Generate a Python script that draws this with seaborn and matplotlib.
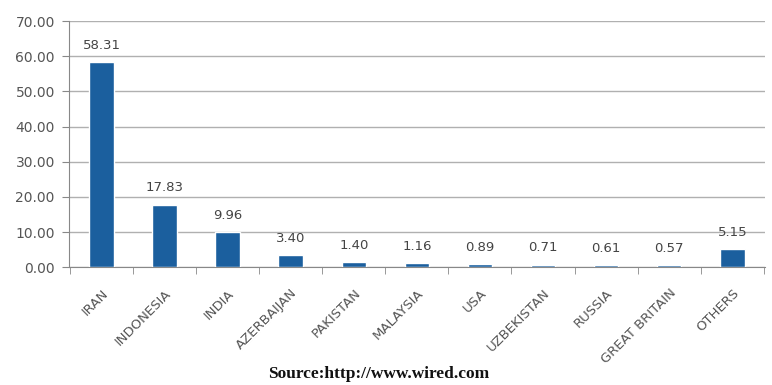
import matplotlib
matplotlib.use("Agg")
import matplotlib.pyplot as plt
import seaborn as sns
import pandas as pd
import numpy as np

countries = ["IRAN", "INDONESIA", "INDIA", "AZERBAIJAN", "PAKISTAN", "MALAYSIA",
             "USA", "UZBEKISTAN", "RUSSIA", "GREAT BRITAIN", "OTHERS"]
values = [58.31, 17.83, 9.96, 3.40, 1.40, 1.16, 0.89, 0.71, 0.61, 0.57, 5.15]
yticks = [0, 10, 20, 30, 40, 50, 60, 70]
source_text = "Source:http://www.wired.com"

sns.set_style("white")
plt.rcParams['font.family'] = ['DejaVu Sans']

fig = plt.figure(figsize=(7.72, 3.85), dpi=100)
ax = fig.add_axes([0.089, 0.306, 0.902, 0.639])

df = pd.DataFrame({"country": countries, "value": values})
sns.barplot(data=df, x="country", y="value", color="#1b5f9e", width=0.39,
            saturation=1, ax=ax, zorder=3)

ax.set_ylim(0, 70)
ax.set_yticks(yticks)
ax.set_yticklabels([f"{t:.2f}" for t in yticks], fontsize=10, color="#555555")
ax.set_xlim(-0.52, len(countries) - 0.48)
ax.yaxis.grid(True, color="#b0b0b0", linewidth=1, zorder=0)
ax.set_axisbelow(True)
ax.set_xlabel("")
ax.set_ylabel("")

for s in ["top", "right"]:
    ax.spines[s].set_visible(False)
ax.spines["left"].set_color("#888888")
ax.spines["bottom"].set_color("#888888")

ax.tick_params(axis="y", length=5, color="#888888", pad=5, direction="out", left=True)
ax.set_xticks(np.arange(len(countries)))
ax.set_xticklabels(countries, rotation=45, ha="right", rotation_mode="anchor",
                   fontsize=9.5, color="#555555")
ax.tick_params(axis="x", length=0, pad=14)
ax.set_xticks(np.arange(len(countries) + 1) - 0.5, minor=True)
ax.tick_params(axis="x", which="minor", length=5, color="#888888", direction="out", bottom=True)

for i, v in enumerate(values):
    ax.text(i, v + 3.0, f"{v:.2f}", ha="center", va="bottom", fontsize=9.5, color="#444444")

fig.text(0.491, 0.028, source_text, ha="center", va="center", fontsize=12.5,
         fontweight="bold", family=["Liberation Serif", "DejaVu Serif"], color="#111111")

fig.savefig("out.png", dpi=100)
